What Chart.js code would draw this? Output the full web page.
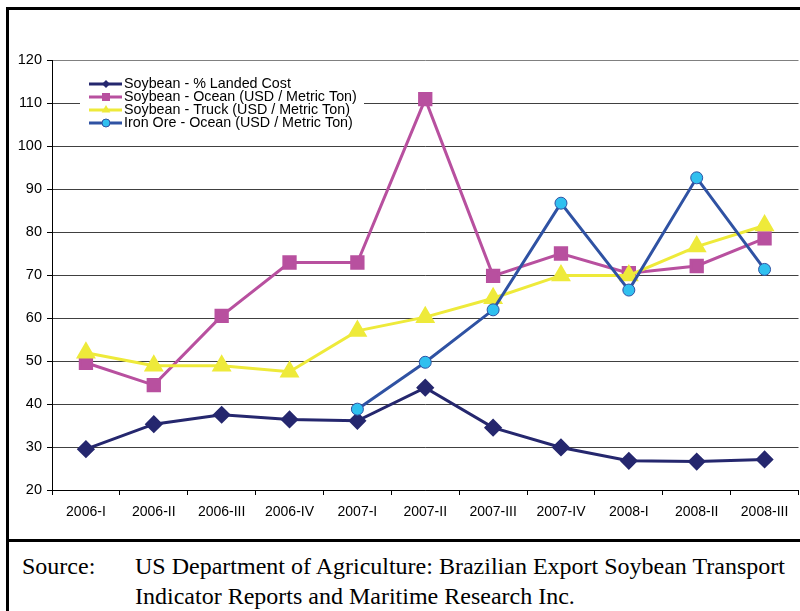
<!DOCTYPE html>
<html>
<head>
<meta charset="utf-8">
<script src="https://cdn.jsdelivr.net/npm/chart.js@4.4.0/dist/chart.umd.min.js"></script>
<style>
  html, body { margin: 0; padding: 0; width: 800px; height: 611px; overflow: hidden; background: #fff; }
  #wrap { position: relative; width: 800px; height: 611px; overflow: hidden; }
  #cw { position: absolute; left: 0; top: 0; width: 810px; height: 540px; }
  #c { display: block; }
  .bar { position: absolute; background: #000; z-index: 5; }
  .src { position: absolute; font-family: "Liberation Serif", "Times New Roman", serif; font-size: 24px; color: #000; white-space: nowrap; line-height: 30px; z-index: 6; }
</style>
</head>
<body>
<div id="wrap">
  <div id="cw"><canvas id="c" width="810" height="540"></canvas></div>
  <div class="bar" style="left:6px; top:7px; width:800px; height:3px;"></div>
  <div class="bar" style="left:6px; top:7px; width:3px; height:610px;"></div>
  <div class="bar" style="left:6px; top:539px; width:800px; height:3px;"></div>
  <div class="src" style="left:22px; top:551px;">Source:</div>
  <div class="src" style="left:135px; top:551px;">US Department of Agriculture: Brazilian Export Soybean Transport<br>Indicator Reports and Maritime Research Inc.</div>
</div>
<script>
const categories = ["2006-I", "2006-II", "2006-III", "2006-IV", "2007-I", "2007-II", "2007-III", "2007-IV", "2008-I", "2008-II", "2008-III"];
const seriesNames = [
  "Soybean - % Landed Cost",
  "Soybean - Ocean (USD / Metric Ton)",
  "Soybean - Truck (USD / Metric Ton)",
  "Iron Ore - Ocean (USD / Metric Ton)"
];
const landedCost = [29.5, 35.3, 37.5, 36.4, 36.1, 43.8, 34.5, 29.9, 26.8, 26.6, 27.1];
const soyOcean = [49.6, 44.4, 60.5, 72.9, 72.9, 110.9, 69.8, 75.0, 70.4, 72.1, 78.5];
const soyTruck = [51.9, 48.9, 48.9, 47.5, 57.0, 60.2, 64.6, 69.9, 69.9, 76.6, 81.5];
const ironOre = [null, null, null, null, 38.8, 49.7, 61.9, 86.7, 66.5, 92.6, 71.3];
const yTicks = { min: 20, max: 120, step: 10 };

const FONT = "'Liberation Sans', Arial, sans-serif";

function drawMarker(ctx, style, x, y, r, fill, stroke, bw) {
  ctx.save();
  ctx.beginPath();
  if (style === 'rectRot') {
    ctx.moveTo(x, y - r); ctx.lineTo(x + r, y); ctx.lineTo(x, y + r); ctx.lineTo(x - r, y); ctx.closePath();
  } else if (style === 'rect') {
    ctx.rect(x - r, y - r, 2 * r, 2 * r);
  } else if (style === 'triangle') {
    ctx.moveTo(x, y - r);
    ctx.lineTo(x + r * 0.866, y + r * 0.5);
    ctx.lineTo(x - r * 0.866, y + r * 0.5);
    ctx.closePath();
  } else {
    ctx.arc(x, y, r, 0, Math.PI * 2);
  }
  ctx.fillStyle = fill;
  ctx.fill();
  if (bw) { ctx.lineWidth = bw; ctx.strokeStyle = stroke; ctx.stroke(); }
  ctx.restore();
}

const legendPlugin = {
  id: 'insideLegend',
  afterDraw(chart) {
    const ctx = chart.ctx;
    ctx.save();
    ctx.fillStyle = '#fff';
    ctx.fillRect(80, 76, 284, 55);
    const rows = [84, 97, 110, 123];
    const sizes = [4, 4, 5, 4];
    chart.data.datasets.forEach((ds, i) => {
      const y = rows[i];
      ctx.strokeStyle = ds.borderColor;
      ctx.lineWidth = 3;
      ctx.beginPath(); ctx.moveTo(89, y); ctx.lineTo(122, y); ctx.stroke();
      drawMarker(ctx, ds.pointStyle, 106, y, sizes[i], ds.pointBackgroundColor, ds.pointBorderColor, ds.pointStyle === 'circle' ? 1 : 0);
      ctx.fillStyle = '#000';
      ctx.font = '14.3px ' + FONT;
      ctx.textBaseline = 'middle';
      ctx.textAlign = 'left';
      ctx.fillText(ds.label, 124, y + 0.5);
    });
    ctx.restore();
  }
};

const chart = new Chart(document.getElementById('c'), {
  type: 'line',
  data: {
    labels: categories,
    datasets: [
      { label: seriesNames[0], data: landedCost, borderColor: '#25276e', backgroundColor: '#25276e',
        pointBackgroundColor: '#25276e', pointBorderColor: '#25276e', pointStyle: 'rectRot', pointRadius: 7, borderWidth: 3, order: 4 },
      { label: seriesNames[1], data: soyOcean, borderColor: '#b8509f', backgroundColor: '#b8509f',
        pointBackgroundColor: '#b8509f', pointBorderColor: '#b8509f', pointStyle: 'rect', pointRadius: 8, borderWidth: 3, order: 3 },
      { label: seriesNames[2], data: soyTruck, borderColor: '#eeea3a', backgroundColor: '#eeea3a',
        pointBackgroundColor: '#eeea3a', pointBorderColor: '#eeea3a', pointStyle: 'triangle', pointRadius: 8.5, borderWidth: 3, order: 2 },
      { label: seriesNames[3], data: ironOre, borderColor: '#2f52a3', backgroundColor: '#30c0ef',
        pointBackgroundColor: '#30c0ef', pointBorderColor: '#2f52a3', pointStyle: 'circle', pointRadius: 6, pointBorderWidth: 1, borderWidth: 3, order: 1 }
    ]
  },
  options: {
    responsive: false,
    animation: false,
    devicePixelRatio: 1,
    spanGaps: false,
    layout: { padding: { top: 60, right: 8, left: 0, bottom: 0 } },
    plugins: { legend: { display: false }, tooltip: { enabled: false } },
    elements: { line: { tension: 0 }, point: { hoverRadius: 0 } },
    scales: {
      x: {
        type: 'category',
        offset: true,
        afterFit(s) { s.height = 50; s.paddingLeft = 0; s.paddingRight = 0; },
        grid: { drawOnChartArea: false, offset: true, tickLength: 5, tickColor: '#000', lineWidth: 1 },
        border: { display: true, color: '#000', width: 1 },
        ticks: { color: '#000', font: { family: FONT, size: 14 }, padding: 9, maxRotation: 0, autoSkip: false }
      },
      y: {
        min: yTicks.min, max: yTicks.max,
        afterFit(s) { s.width = 52; },
        grid: { color: (c) => c.tick && c.tick.value === yTicks.max ? '#808080' : '#404040', lineWidth: 1, tickLength: 5, tickColor: '#000' },
        border: { display: true, color: '#000', width: 1 },
        ticks: { stepSize: yTicks.step, color: '#000', font: { family: FONT, size: 14.5 }, padding: 5 }
      }
    }
  },
  plugins: [legendPlugin]
});
</script>
</body>
</html>
